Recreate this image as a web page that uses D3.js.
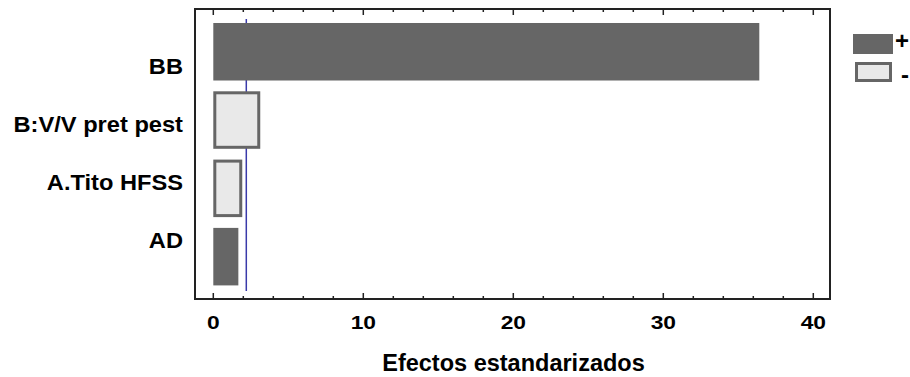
<!DOCTYPE html>
<html><head><meta charset="utf-8">
<script src="https://cdn.jsdelivr.net/npm/d3@7"></script>
<style>body{margin:0;background:#fff}svg{display:block}text{font-family:"Liberation Sans",Arial,sans-serif;font-weight:bold;fill:#000}</style>
</head><body><svg id="c" width="910" height="377"></svg>
<script>
const categories = ["BB", "B:V/V pret pest", "A.Tito HFSS", "AD"];
const effects = [36.4, 3.13, 1.93, 1.67];
const signs = ["+", "-", "-", "+"];
const xTicks = [0, 10, 20, 30, 40];
const criticalValue = 2.2;
const legendLabels = ["+", "-"];
const axisTitle = "Efectos estandarizados";

const svg = d3.select("#c");
const frame = {l: 195, t: 9, r: 830, b: 299};
const x = d3.scaleLinear().domain([0, 40]).range([213.3, 813.3]);
const y = d3.scaleBand().domain(categories).range([17.6, 290.8]).paddingInner(0.158).paddingOuter(0.079);
const yl = d3.scalePoint().domain(categories).range([66, 240]);
const dark = "#666666", light = "#e9e9e9";

// critical line (drawn beneath bars)
svg.append("line").attr("x1", x(criticalValue)).attr("x2", x(criticalValue))
  .attr("y1", 19).attr("y2", 291).attr("stroke", "#3a3aaa").attr("stroke-width", 1.5);

// bars
svg.append("g").selectAll("rect").data(categories).join("rect")
  .attr("x", (d,i) => signs[i] === "+" ? x(0) : x(0) + 1.5)
  .attr("y", (d,i) => signs[i] === "+" ? y(d) : y(d) + 1.5)
  .attr("width", (d,i) => signs[i] === "+" ? x(effects[i]) - x(0) : x(effects[i]) - x(0) - 3)
  .attr("height", (d,i) => signs[i] === "+" ? y.bandwidth() : y.bandwidth() - 3)
  .attr("fill", (d,i) => signs[i] === "+" ? dark : light)
  .attr("stroke", (d,i) => signs[i] === "+" ? "none" : dark)
  .attr("stroke-width", 3);

// frame
svg.append("rect").attr("x", frame.l).attr("y", frame.t)
  .attr("width", frame.r - frame.l).attr("height", frame.b - frame.t)
  .attr("fill", "none").attr("stroke", "#222").attr("stroke-width", 2);

// ticks (inward, top and bottom)
const minor = d3.range(0, 41, 2);
const tg = svg.append("g").attr("stroke", "#222").attr("stroke-width", 1.5);
minor.forEach(v => {
  const len = v % 10 === 0 ? 6 : 3;
  tg.append("line").attr("x1", x(v)).attr("x2", x(v)).attr("y1", frame.b).attr("y2", frame.b - len);
  tg.append("line").attr("x1", x(v)).attr("x2", x(v)).attr("y1", frame.t).attr("y2", frame.t + len);
});

// tick labels
svg.append("g").selectAll("text").data(xTicks).join("text")
  .attr("transform", d => `translate(${x(d)},328.5) scale(1.2,1)`)
  .attr("text-anchor", "middle").attr("font-size", 19).text(d => d);

// category labels
svg.append("g").selectAll("text").data(categories).join("text")
  .attr("transform", d => `translate(183,${yl(d)}) scale(1.1,1)`)
  .attr("dy", "0.36em").attr("text-anchor", "end").attr("font-size", 21.5).text(d => d);

// axis title
svg.append("text").attr("x", (frame.l + frame.r) / 2 + 1).attr("y", 371)
  .attr("text-anchor", "middle").attr("font-size", 23.5).text(axisTitle);

// legend
const lg = svg.append("g");
legendLabels.forEach((s, i) => {
  const yy = 34 + i * 28;
  if (s === "+") {
    lg.append("rect").attr("x", 853).attr("y", yy).attr("width", 40).attr("height", 20).attr("fill", dark);
  } else {
    lg.append("rect").attr("x", 856.5).attr("y", yy + 1.5).attr("width", 34).attr("height", 17)
      .attr("fill", light).attr("stroke", dark).attr("stroke-width", 3);
  }
  lg.append("text").attr("x", s === "+" ? 902 : 905).attr("y", s === "+" ? yy + 6 : yy + 12).attr("dy", "0.36em")
    .attr("text-anchor", "middle").attr("font-size", 24).text(s);
});
</script></body></html>
